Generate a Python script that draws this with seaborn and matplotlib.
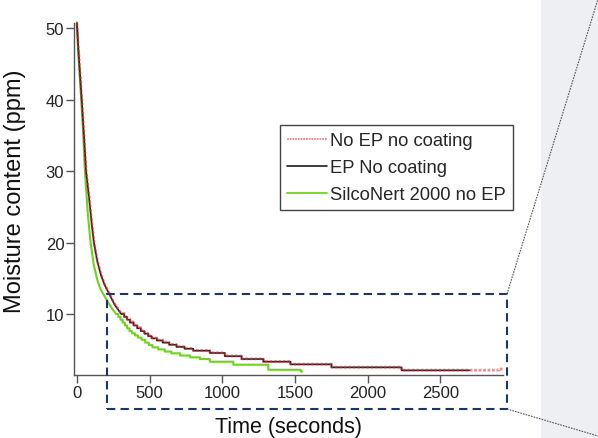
import numpy as np
import pandas as pd
import matplotlib
matplotlib.use("Agg")
import matplotlib.pyplot as plt
import seaborn as sns
from matplotlib.lines import Line2D
from matplotlib.patches import Rectangle

# ---------------- data ----------------
series_names = ["No EP no coating", "EP No coating", "SilcoNert 2000 no EP"]

# EP No coating (black)
ep_head_t = [0, 10, 20, 33, 50, 63, 85, 100, 117, 140, 165, 190, 222, 260, 305]
ep_head_v = [50.7, 47.0, 44.0, 40.0, 34.5, 30.0, 26.0, 23.0, 20.0, 17.4, 15.5, 14.1, 12.8, 11.3, 10.0]
ep_step_t = [305, 325, 345, 365, 390, 415, 440, 465, 490, 515, 550, 590, 635, 685, 740,
             800, 915, 1018, 1133, 1283, 1470, 1752, 2234]
ep_step_v = [10.0, 9.6, 9.2, 8.8, 8.4, 8.0, 7.6, 7.25, 6.9, 6.6, 6.3, 6.0, 5.7, 5.4, 5.15,
             4.87, 4.55, 4.1, 3.7, 3.33, 2.96, 2.54, 2.12]
ep_end_t = 2700

# No EP no coating (red, dotted)
noep_head_t = [0, 10, 20, 33, 50, 63, 85, 100, 117, 140, 165, 190, 222, 260, 305]
noep_head_v = [50.7, 47.2, 44.2, 40.2, 34.7, 30.2, 26.2, 23.2, 20.1, 17.5, 15.6, 14.2, 12.9, 11.4, 10.1]
noep_step_t = [305, 325, 345, 365, 390, 415, 440, 465, 490, 515, 550, 590, 635, 685, 740,
               800, 915, 1018, 1133, 1283, 1470, 1752, 2234, 2905]
noep_step_v = [10.1, 9.7, 9.3, 8.9, 8.5, 8.1, 7.7, 7.3, 6.95, 6.65, 6.35, 6.05, 5.75, 5.45, 5.2,
               4.9, 4.58, 4.13, 3.73, 3.36, 2.99, 2.57, 2.15, 2.3]
noep_end_t = 2930

# SilcoNert 2000 no EP (green)
sn_head_t = [0, 10, 20, 30, 45, 55, 75, 94, 115, 140, 160, 181, 210, 240, 270]
sn_head_v = [50.8, 46.5, 43.0, 40.0, 34.5, 30.0, 24.0, 20.0, 17.0, 14.8, 13.6, 12.8, 11.8, 10.8, 10.0]
sn_step_t = [270, 285, 300, 315, 330, 345, 362, 380, 400, 420, 445, 470, 495, 520, 560,
             605, 650, 710, 778, 847, 915, 1076, 1317, 1540]
sn_step_v = [10.0, 9.6, 9.2, 8.8, 8.4, 8.0, 7.6, 7.3, 7.0, 6.7, 6.4, 6.0, 5.65, 5.34, 5.05,
             4.75, 4.5, 4.2, 3.94, 3.7, 3.33, 2.91, 2.2, 1.95]
sn_end_t = 1550

x_ticks = [0, 500, 1000, 1500, 2000, 2500]
y_ticks = [10, 20, 30, 40, 50]
zoom_t = (206, 2960)
zoom_v = (12.8, -3.3)


def build(name, head_t, head_v, step_t, step_v, end_t):
    t = list(head_t)
    v = list(head_v)
    for i in range(len(step_t)):
        nxt = step_t[i + 1] if i + 1 < len(step_t) else end_t
        t += [step_t[i], nxt]
        v += [step_v[i], step_v[i]]
    return pd.DataFrame({"Time": t, "Moisture": v, "Series": name})


df = pd.concat([
    build(series_names[0], noep_head_t, noep_head_v, noep_step_t, noep_step_v, noep_end_t),
    build(series_names[1], ep_head_t, ep_head_v, ep_step_t, ep_step_v, ep_end_t),
    build(series_names[2], sn_head_t, sn_head_v, sn_step_t, sn_step_v, sn_end_t),
], ignore_index=True)

# ---------------- style ----------------
sns.set_theme(style="white")
plt.rcParams["font.family"] = ["Liberation Sans", "DejaVu Sans"]

fig = plt.figure(figsize=(5.98, 4.39), dpi=100)
fig.patch.set_facecolor("white")

# grey panel on the right
fig.add_artist(Rectangle((541 / 598, 0), 57 / 598, 1, transform=fig.transFigure,
                         facecolor="#eeeff2", edgecolor="none", zorder=0))

ax = fig.add_axes([74 / 598, 63 / 439, 429 / 598, 352.3 / 439])
ax.set_facecolor("none")

styles = {
    series_names[0]: dict(color="#e0303a", lw=2.0, ls=(0, (1, 0.6)), alpha=0.55),
    series_names[1]: dict(color="#1e1e1e", lw=1.2, ls="-", alpha=1.0),
    series_names[2]: dict(color="#6fd21e", lw=1.5, ls="-", alpha=1.0),
}
order = [series_names[0], series_names[2], series_names[1]]
for name in order:
    st = styles[name]
    sub = df[df["Series"] == name]
    sns.lineplot(data=sub, x="Time", y="Moisture", ax=ax, sort=False, estimator=None,
                 color=st["color"], lw=st["lw"], ls=st["ls"], alpha=st["alpha"],
                 clip_on=False, zorder=3 if name != series_names[0] else 4)

ax.set_xlim(-20, 2932)
ax.set_ylim(1.47, 50.75)
ax.set_xticks(x_ticks)
ax.set_yticks(y_ticks)
ax.set_xlabel("Time (seconds)", fontsize=15.5, color="#111111", labelpad=12)
ax.set_ylabel("Moisture content (ppm)", fontsize=17, color="#111111")
ax.yaxis.set_label_coords(-0.112, 0.525)
ax.tick_params(axis="both", direction="out", length=5.5, width=1, color="#555555",
               labelsize=12, labelcolor="#222222", bottom=True, left=True)
ax.tick_params(axis="x", pad=1.5)
ax.tick_params(axis="y", pad=1.5)
for s in ["top", "right"]:
    ax.spines[s].set_visible(False)
for s in ["left", "bottom"]:
    ax.spines[s].set_color("#555555")
    ax.spines[s].set_linewidth(1.0)

# legend
leg_styles = {
    series_names[0]: dict(color="#e8505a", lw=1.3, ls=(0, (1, 0.5)), alpha=0.7),
    series_names[1]: dict(color="#1e1e1e", lw=1.2, ls="-", alpha=1.0),
    series_names[2]: dict(color="#6fd21e", lw=1.3, ls="-", alpha=1.0),
}
handles = [Line2D([0], [0], **leg_styles[n]) for n in series_names]
leg = ax.legend(handles, series_names, loc="upper left",
                bbox_to_anchor=(280 / 598, 1 - 126 / 439), bbox_transform=fig.transFigure,
                fontsize=13.2, frameon=True, fancybox=False, framealpha=1,
                handlelength=2.2, handletextpad=0.15, labelspacing=0.55,
                borderpad=0.38, borderaxespad=0)
leg.get_frame().set_edgecolor("#444444")
leg.get_frame().set_linewidth(1.0)

# zoom rectangle (dashed)
ax.add_patch(Rectangle((zoom_t[0], zoom_v[1]), zoom_t[1] - zoom_t[0], zoom_v[0] - zoom_v[1],
                       fill=False, edgecolor="#1f3560", lw=1.5, ls=(0, (4, 2.5)),
                       clip_on=False, zorder=5))

# connector lines to the grey panel
fig.add_artist(Line2D([507 / 598, 598 / 598], [1 - 295 / 439, 1.0], transform=fig.transFigure,
                      color="#555555", lw=0.8, ls=(0, (1.5, 1))))
fig.add_artist(Line2D([507 / 598, 598 / 598], [1 - 410 / 439, 1 - 437 / 439],
                      transform=fig.transFigure, color="#555555", lw=0.8, ls=(0, (1.5, 1))))

fig.savefig("out.png", dpi=100)
